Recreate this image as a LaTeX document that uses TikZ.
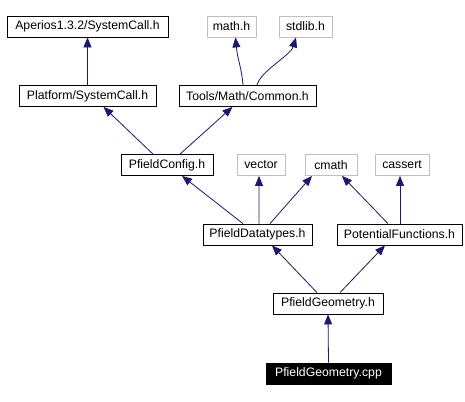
\documentclass[tikz,border=0pt]{standalone}
\usepackage{fontspec}
\setmainfont{Liberation Sans}
\usetikzlibrary{arrows.meta}
\definecolor{edgecol}{HTML}{191970}
\definecolor{graybox}{HTML}{BFBFBF}
\begin{document}
\begin{tikzpicture}[x=1bp,y=-1bp,
  box/.style={draw=black,line width=0.8bp,fill=white,inner sep=0pt,minimum height=21bp,font=\fontsize{12.3}{14}\selectfont,text=black},
  ext/.style={box,draw=graybox},
  cur/.style={box,fill=black,text=white},
  dep/.style={draw=edgecol,line width=0.8bp,-{Triangle[length=10bp,width=8bp]}}]
\useasboundingbox[fill=white] (0,0) rectangle (465,401);
\node[box,minimum width=161bp] (aper) at (87.5,26.5) {Aperios1.3.2/SystemCall.h};
\node[ext,minimum width=49bp] (math) at (231.5,26.5) {math.h};
\node[ext,minimum width=53bp] (stdlib) at (305.5,26.5) {stdlib.h};
\node[box,minimum width=137bp] (plat) at (87.5,96) {Platform/SystemCall.h};
\node[box,minimum width=137bp] (common) at (247.5,96) {Tools/Math/Common.h};
\node[box,minimum width=92bp] (config) at (167,165) {PfieldConfig.h};
\node[ext,minimum width=48bp] (vector) at (261,165) {vector};
\node[ext,minimum width=52bp] (cmath) at (331,165) {cmath};
\node[ext,minimum width=54bp] (cassert) at (402,165) {cassert};
\node[box,minimum width=109bp] (dtypes) at (257.5,234.5) {PfieldDatatypes.h};
\node[box,minimum width=125bp] (potential) at (399.5,234.5) {PotentialFunctions.h};
\node[box,minimum width=110bp] (geomh) at (328,303.5) {PfieldGeometry.h};
\node[cur,minimum width=125bp] (cpp) at (328.5,373.5) {PfieldGeometry.cpp};
\draw[dep] (plat.north) -- (aper.south);
\draw[dep] ([xshift=-4.5bp]common.north) .. controls ([xshift=-6bp,yshift=18bp]common.north) and ([xshift=6bp,yshift=-22bp]math.south) .. ([xshift=4bp]math.south);
\draw[dep] ([xshift=9.5bp]common.north) .. controls ([xshift=13bp,yshift=14bp]common.north) and ([xshift=-15bp,yshift=-18bp]stdlib.south) .. ([xshift=-9.5bp]stdlib.south);
\draw[dep] ([xshift=-14bp]config.north) -- ([xshift=16bp]plat.south);
\draw[dep] ([xshift=13bp]config.north) -- ([xshift=-15bp]common.south);
\draw[dep] ([xshift=-14.5bp]dtypes.north) -- ([xshift=15bp]config.south);
\draw[dep] ([xshift=1.5bp]dtypes.north) -- ([xshift=-2bp]vector.south);
\draw[dep] ([xshift=12.5bp]dtypes.north) -- ([xshift=-19bp]cmath.south);
\draw[dep] ([xshift=-11.5bp]potential.north) -- ([xshift=11bp]cmath.south);
\draw[dep] ([xshift=0.5bp]potential.north) -- ([xshift=-2bp]cassert.south);
\draw[dep] ([xshift=-11bp]geomh.north) -- ([xshift=14.5bp]dtypes.south);
\draw[dep] ([xshift=12bp]geomh.north) -- ([xshift=-14.5bp]potential.south);
\draw[dep] (cpp.north) -- (geomh.south);
\end{tikzpicture}
\end{document}
